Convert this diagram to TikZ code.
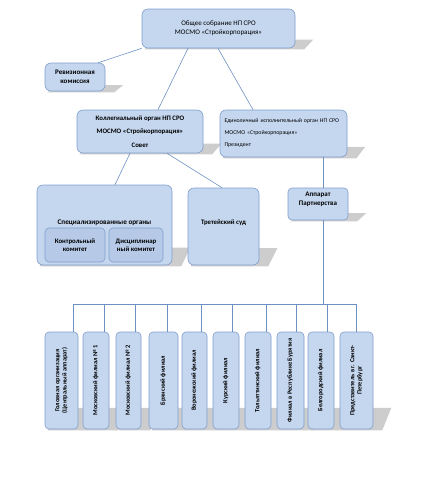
\documentclass[tikz,border=0pt]{standalone}
\usepackage{fontspec}
\setmainfont{Carlito}
\usepackage{graphicx}
\usetikzlibrary{calc,backgrounds}
\definecolor{boxfill}{RGB}{197,215,239}
\definecolor{boxline}{RGB}{128,158,204}
\definecolor{subfill}{RGB}{182,202,231}
\definecolor{linkcol}{RGB}{110,145,195}
\definecolor{shadecol}{RGB}{205,205,205}
\newcommand{\boxshade}[1]{%
  \begin{pgfonlayer}{background}
    \fill[shadecol] ([xshift=3pt,yshift=-1pt]#1.south west) -- ([xshift=9pt,yshift=-1pt]#1.south east)
      -- ([xshift=18pt]$(#1.south east)!0.22!(#1.north east)$)
      -- ([xshift=12pt]$(#1.south west)!0.22!(#1.north west)$) -- cycle;
  \end{pgfonlayer}}

\begin{document}
\begin{tikzpicture}[x=1pt,y=-1pt,
    orgbox/.style={draw=boxline, fill=boxfill, line width=0.6pt, rounded corners=6pt,
      align=center, inner sep=2pt, font=\fontsize{6.8}{8}\selectfont\bfseries},
    subbox/.style={orgbox, fill=subfill, rounded corners=4pt},
    branch/.style={orgbox, rounded corners=4pt, minimum height=97pt, inner sep=1pt,
      font=\fontsize{6.4}{7.2}\selectfont\bfseries},
    link/.style={draw=linkcol, line width=0.6pt}]
  \useasboundingbox (0,0) rectangle (424,483);

  % Governing bodies:
  \node[orgbox, minimum width=153pt, minimum height=39pt, font=\fontsize{7}{9}\selectfont] (meeting) at (218.5,28.5)
    {Общее собрание НП СРО\\МОСМО «Стройкорпорация»};
  \node[orgbox, minimum width=60pt, minimum height=28pt, font=\fontsize{7}{8.5}\selectfont\bfseries] (audit) at (75,77)
    {Ревизионная\\комиссия};
  \node[orgbox, minimum width=126pt, minimum height=43pt, font=\fontsize{6.8}{13.5}\selectfont\bfseries] (council) at (140,131.5)
    {Коллегиальный орган НП СРО\\МОСМО «Стройкорпорация»\\Совет};
  \node[orgbox, minimum width=127pt, minimum height=47pt, text width=118pt, align=left,
    font=\fontsize{5.8}{12}\selectfont] (president) at (283.5,133.5)
    {Единоличный исполнительный орган НП СРО\\МОСМО «Стройкорпорация»\\Президент};
  \node[orgbox, minimum width=135pt, minimum height=80pt, text depth=5pt, font=\fontsize{7.2}{8}\selectfont\bfseries] (special) at (104.5,225)
    {Специализированные органы};
  \node[subbox, minimum width=60pt, minimum height=34pt] (control) at (75,245) {Контрольный\\комитет};
  \node[subbox, minimum width=54pt, minimum height=34pt] (discipline) at (136,245) {Дисциплинар\\ный комитет};
  \node[orgbox, minimum width=71pt, minimum height=77pt, text depth=8.5pt] (court) at (223.5,226.5) {Третейский суд};
  \node[orgbox, minimum width=60pt, minimum height=32pt, rounded corners=4pt, text depth=10pt,
    font=\fontsize{7}{9}\selectfont\bfseries] (staff) at (318,204)
    {Аппарат\\Партнерства};
  \foreach \nm in {meeting,audit,council,president,special,court,staff}
    \boxshade{\nm};

  % Connectors:
  \draw[link] (meeting.south west) -- ([xshift=-7pt]audit.north east);
  \draw[link] ([xshift=-30.5pt]meeting.south) -- ([xshift=18pt]council.north);
  \draw[link] ([xshift=-0.5pt]meeting.south) -- ([xshift=-30.5pt]president.north);
  \draw[link] ([xshift=-10pt]council.south) -- ([xshift=10.5pt]special.north);
  \draw[link] ([xshift=27pt]council.south) -- ([xshift=-1.5pt]court.north);
  \coordinate (busL) at (73,304);
  \coordinate (busR) at (356,304);
  \coordinate (staffx) at ($(staff.north)+(5,0)$);
  \draw[link] (president.south -| staffx) -- (staffx);
  \draw[link] ($(staff.south)+(5,0)$) -- (staffx |- busL);
  \draw[link] (busL) -- (busR);

  % Branches:
  \foreach \nm/\cx/\bw/\dropx/\lbl in {
      b1/61.5/33/11.5/{Головная организация\\(Центральный аппарат)},
      b2/96/26/8/{Московский филиал № 1},
      b3/128.5/25/6.5/{Московский филиал № 2},
      b4/163.5/29/3.5/{Брянский филиал},
      b5/194.5/25/6.5/{Воронежский филиал},
      b6/226/26/6/{Курский филиал},
      b7/258/26/8/{Тольяттинский филиал},
      b8/290.5/27/5.5/{Филиал в Республике Бурятия},
      b9/321/26/6/{Белгородский филиал},
      b10/356.5/33/-0.5/{Представитель в г. Санкт-\\Петербург}} {
    \node[branch, minimum width=\bw pt] (\nm) at (\cx,380.5)
      {\rotatebox{90}{\begin{tabular}{@{}c@{}}\lbl\end{tabular}}};
    \boxshade{\nm}
    \draw[link] ($(\nm.north)+(\dropx,0)$) -- ($(\nm.north |- busL)+(\dropx,0)$);
  }
\end{tikzpicture}
\end{document}
